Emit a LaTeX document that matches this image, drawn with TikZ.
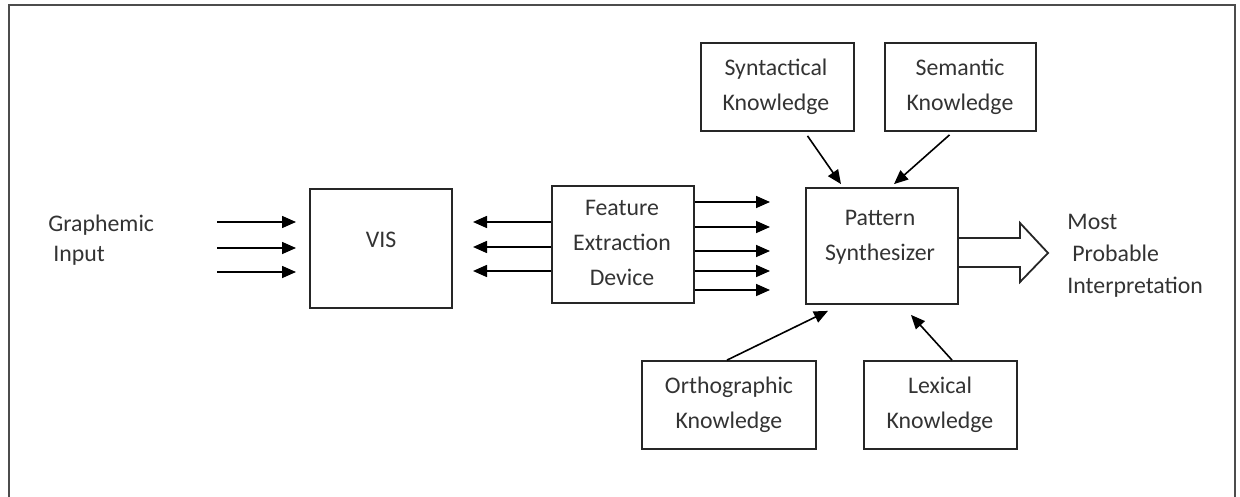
\documentclass[tikz,border=0pt]{standalone}
\usepackage{fontspec}
\setmainfont{Carlito}
\usetikzlibrary{arrows.meta,calc}
\begin{document}
\begin{tikzpicture}[x=0.5pt,y=-0.5pt,
  box/.style={draw=black!85,line width=0.9pt,inner sep=0pt},
  txt/.style={align=center,font=\fontsize{11.9}{17.5}\selectfont,text=black!80,inner sep=0pt},
  ltxt/.style={align=left,font=\fontsize{11.9}{15}\selectfont,text=black!80,inner sep=0pt,anchor=west},
  arr/.style={line width=0.8pt,-{Triangle[length=7pt,width=6pt]}},
  ]
\useasboundingbox (0,0) rectangle (1240,497);
\draw[line width=0.8pt,draw=black!70] (9,497) -- (9,5) -- (1235,5) -- (1235,497);

% boxes
\node[box,minimum width=71pt,minimum height=59.5pt] (vis) at (381,248.5) {};
\node[box,minimum width=71pt,minimum height=58.5pt] (feat) at (623,244.5) {};
\node[box,minimum width=76pt,minimum height=58pt] (pat) at (882,246) {};
\node[box,minimum width=76.5pt,minimum height=44pt] (syn) at (777.5,87) {};
\node[box,minimum width=75.5pt,minimum height=44pt] (sem) at (960.5,87) {};
\node[box,minimum width=87pt,minimum height=44pt] (orth) at (729,405) {};
\node[box,minimum width=76.5pt,minimum height=44pt] (lex) at (940.5,405) {};

% texts
\node[txt] (vist) at (381,240) {VIS};
\node[txt] (featt) at (622,243) {Feature\\Extraction\\Device};
\node[txt] (patt) at (880,237) {Pattern\\Synthesizer};
\node[txt] (synt) at (776,87) {Syntactical\\Knowledge};
\node[txt] (semt) at (960,87) {Semantic\\Knowledge};
\node[txt] (ortht) at (729,405) {Orthographic\\Knowledge};
\node[txt] (lext) at (940,405) {Lexical\\Knowledge};
\node[ltxt] (graph) at (48,240) {Graphemic\\\hspace{2.5pt}Input};
\node[ltxt,font=\fontsize{11.9}{16}\selectfont] (most) at (1067,256) {Most\\\hspace{2.5pt}Probable\\Interpretation};

% graphemic input arrows
\coordinate (g1) at (217,222);
\coordinate (g2) at (217,248);
\coordinate (g3) at (217,272);
\draw[arr] (g1) -- (g1 -| 296,0);
\draw[arr] (g2) -- (g2 -| 296,0);
\draw[arr] (g3) -- (g3 -| 296,0);

% feature -> vis arrows
\foreach \yy in {222,247,271}{
  \draw[arr] (feat.west |- 0,\yy) -- (473,\yy);
}
% feature -> pattern arrows
\foreach \yy in {202,227,251,271,290}{
  \draw[arr] (feat.east |- 0,\yy) -- (770,\yy);
}

% knowledge arrows
\draw[arr] ($(syn.south)+(30,4)$) -- ($(pat.north)+(-41,-3)$);
\draw[arr] ($(sem.south)+(-11,3)$) -- ($(pat.north)+(12,-3)$);
\draw[arr] ($(orth.north)+(-2,0)$) -- ($(pat.south)+(-54,6)$);
\draw[arr] ($(lex.north)+(11.5,0)$) -- ($(pat.south)+(29,10)$);

% big hollow arrow
\draw[line width=0.9pt,draw=black!85,line join=miter]
  ($(pat.east)+(0,-8)$) -- (1020,238) -- (1020,223) -- (1048,253)
  -- (1020,282) -- (1020,267) -- ($(pat.east)+(0,21)$);
\end{tikzpicture}
\end{document}
